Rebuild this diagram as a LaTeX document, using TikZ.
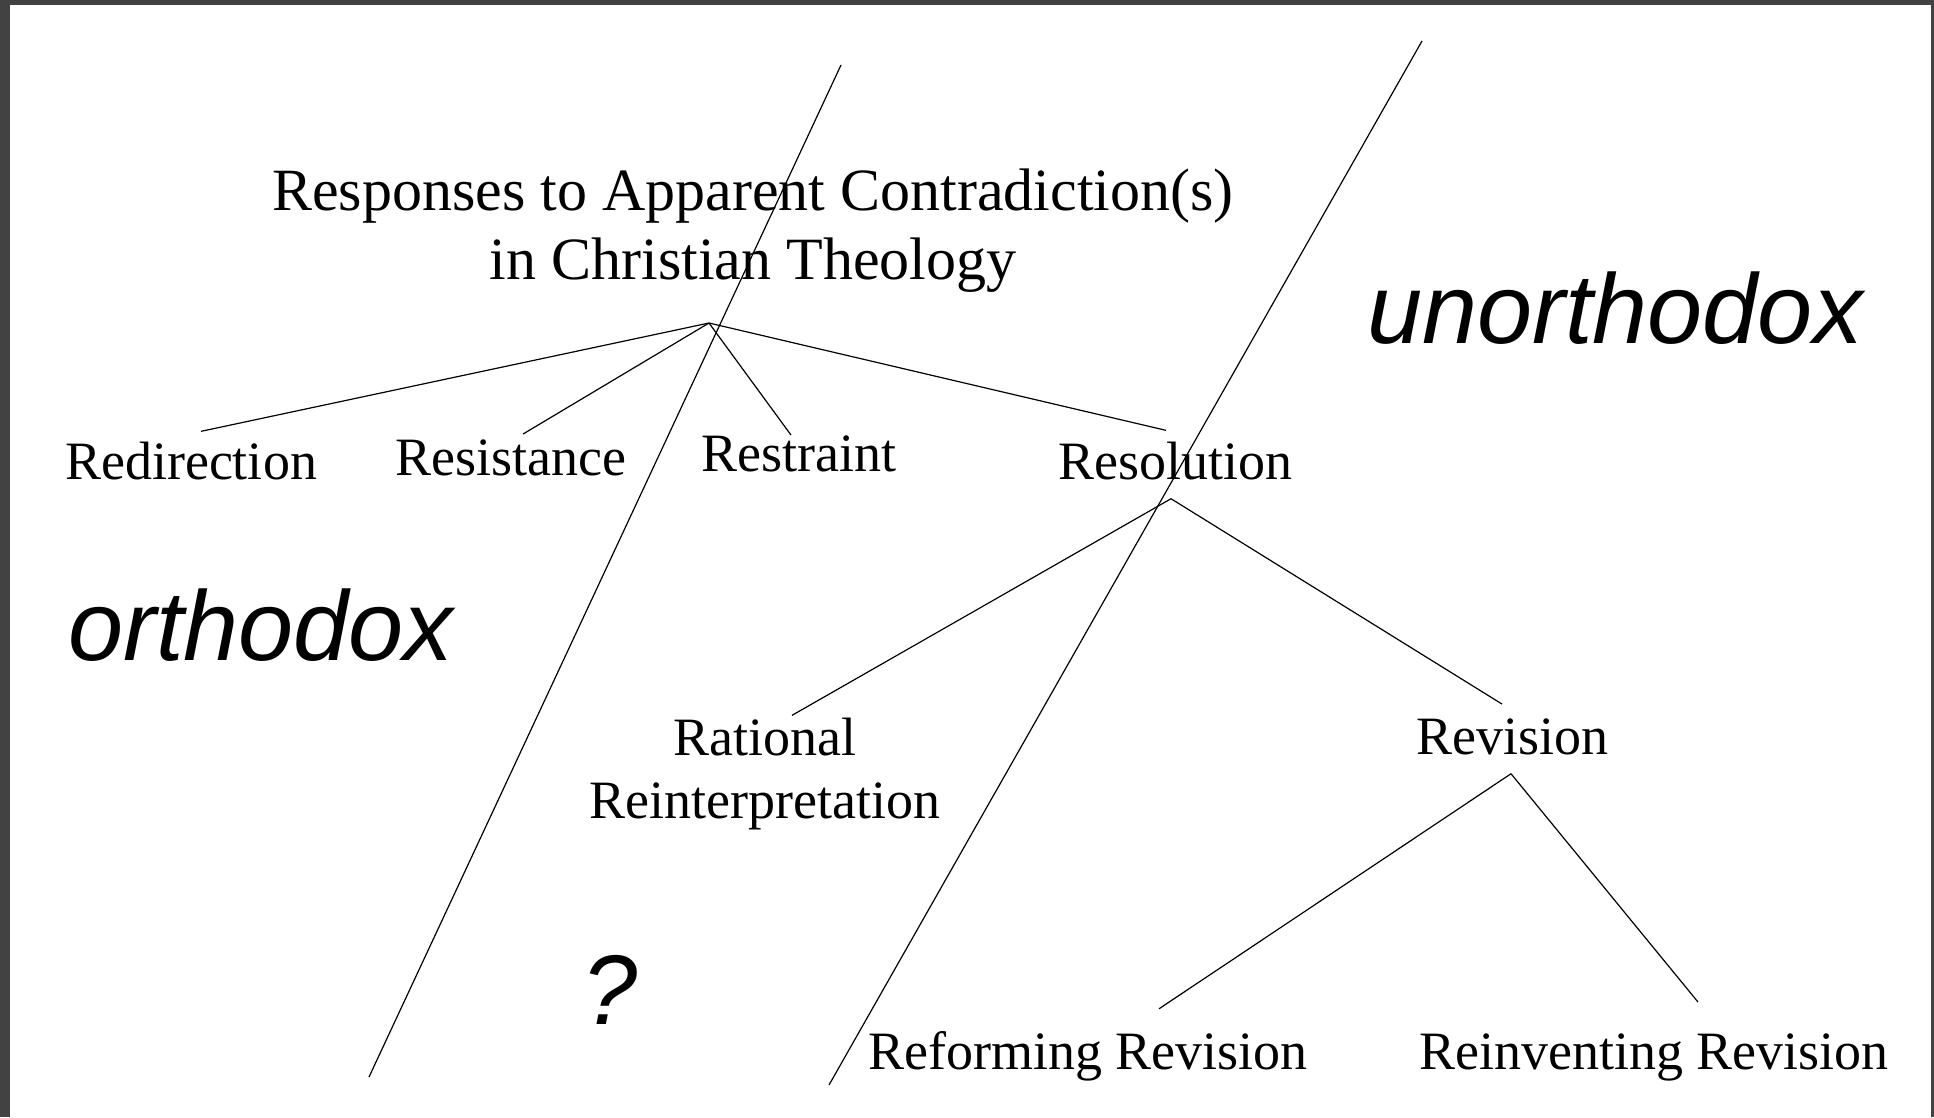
\documentclass[tikz,border=0pt]{standalone}
\usepackage{fontspec}
\setmainfont{Liberation Serif}
\setsansfont{Liberation Sans}
\definecolor{framegray}{RGB}{66,66,66}
\begin{document}
\begin{tikzpicture}[x=1pt,y=-1pt,
  titletext/.style={font=\fontsize{60}{69}\selectfont, inner sep=0, anchor=base, align=center},
  lbl/.style={font=\fontsize{54}{63}\selectfont, inner sep=0, anchor=base, align=center},
  big/.style={font=\fontsize{99}{110}\selectfont\sffamily\itshape, inner sep=0, anchor=base west},
  conn/.style={line width=1.2pt, black},
  divider/.style={line width=1.2pt, black}]
\fill[framegray] (0,0) rectangle (1934,1117);
\fill[white] (10,5) rectangle (1931,1117);
\useasboundingbox (0,0) rectangle (1934,1117);

% dividing lines
\coordinate (d1top) at (841,65);
\coordinate (d1bot) at (369,1077);
\coordinate (d2top) at (1422,41);
\coordinate (d2bot) at (829,1085);
\draw[divider] (d1top) -- (d1bot);
\draw[divider] (d2top) -- (d2bot);

% title (base = last line)
\node[titletext] (title) at (753,279) {Responses to Apparent Contradiction(s)\\in Christian Theology};

% labels
\node[lbl] (redir) at (191,479) {Redirection};
\node[lbl] (resist) at (511,475) {Resistance};
\node[lbl] (restr) at (799,471) {Restraint};
\node[lbl] (resol) at (1175,479) {Resolution};
\node[lbl] (ratio) at (765,818) {Rational\\Reinterpretation};
\node[lbl] (revis) at (1512,754) {Revision};
\node[lbl] (reform) at (1088,1069) {Reforming Revision};
\node[lbl] (reinv) at (1654,1069) {Reinventing Revision};

% big words
\node[big] (orth) at (68,660) {orthodox};
\node[big] (unorth) at (1367,343) {unorthodox};
\node[big] (quest) at (582,1024) {?};

% hubs
\coordinate (hub) at (709,323);
\coordinate (resolhub) at ([xshift=-4pt,yshift=-19pt]resol.south);
\coordinate (revishub) at ([xshift=-1pt,yshift=-19pt]revis.south);

% connectors
\draw[conn] (hub) -- ([xshift=10pt,yshift=10pt]redir.north);
\draw[conn] (hub) -- ([xshift=12pt,yshift=5pt]resist.north);
\draw[conn] (hub) -- ([xshift=-8pt,yshift=0pt]restr.north);
\draw[conn] (hub) -- ([xshift=-9pt,yshift=11pt]resol.north);
\draw[conn] (resolhub) -- ([xshift=27pt,yshift=2pt]ratio.north);
\draw[conn] (resolhub) -- ([xshift=-10pt,yshift=14pt]revis.north);
\draw[conn] (revishub) -- ([xshift=71pt,yshift=22pt]reform.north);
\draw[conn] (revishub) -- ([xshift=44pt,yshift=31pt]reinv.north);
\end{tikzpicture}
\end{document}
